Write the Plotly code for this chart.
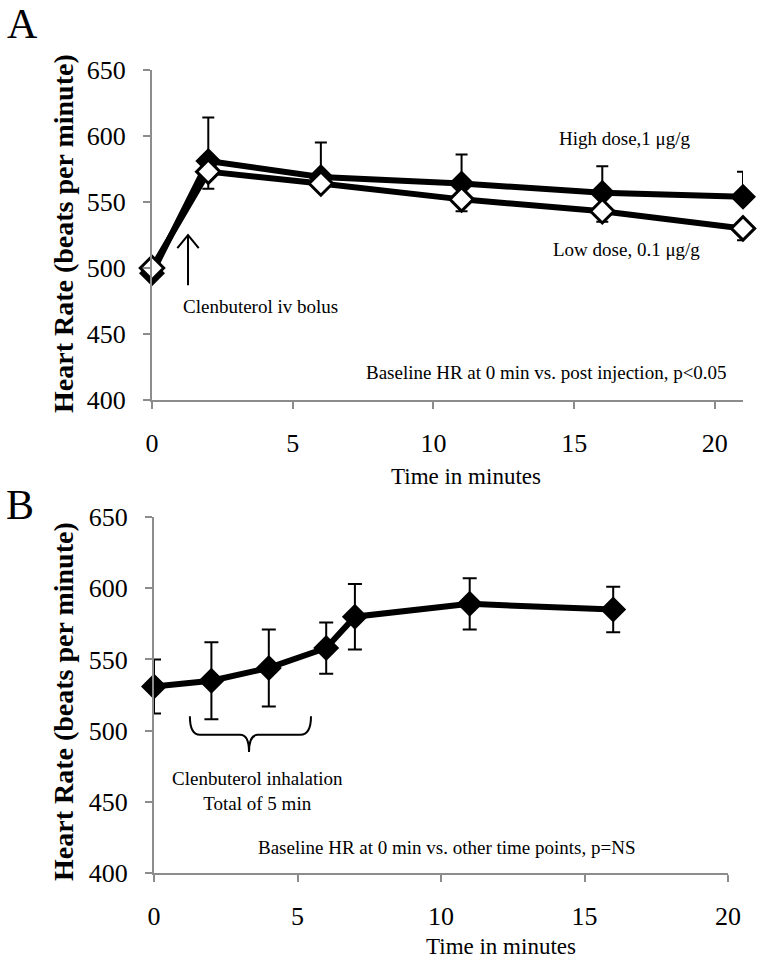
import plotly.graph_objects as go

# Panel A: iv bolus
time_a = [0, 2, 6, 11, 16, 21]
high_dose = [496, 581, 569, 564, 557, 554]
high_err = [3, 33, 26, 22, 20, 19]
low_dose = [500, 573, 564, 552, 543, 530]
low_err = [3, 13, 5, 9, 8, 9]

# Panel B: inhalation
time_b = [0, 2, 4, 6, 7, 11, 16]
inhal_hr = [531, 535, 544, 558, 580, 589, 585]
inhal_err = [19, 27, 27, 18, 23, 18, 16]

y_ticks = [400, 450, 500, 550, 600, 650]
x_ticks_a = [0, 5, 10, 15, 20]
x_ticks_b = [0, 5, 10, 15, 20]

SERIF = "Liberation Serif, Times New Roman, serif"
GREY = "#8c8c8c"

fig = go.Figure()

fig.add_trace(go.Scatter(
    x=time_a, y=high_dose, mode="lines+markers", name="High dose",
    line=dict(color="black", width=6),
    marker=dict(symbol="diamond", size=20, color="black"),
    error_y=dict(type="data", symmetric=False, array=high_err,
                 arrayminus=[0] * len(high_err), color="black", thickness=2, width=6),
    xaxis="x", yaxis="y", cliponaxis=False,
))
fig.add_trace(go.Scatter(
    x=time_a, y=low_dose, mode="lines+markers", name="Low dose",
    line=dict(color="black", width=6),
    marker=dict(symbol="diamond", size=18, color="white", line=dict(color="black", width=3)),
    error_y=dict(type="data", symmetric=False, array=[0] * len(low_err),
                 arrayminus=low_err, color="black", thickness=2, width=6),
    xaxis="x", yaxis="y", cliponaxis=False,
))
fig.add_trace(go.Scatter(
    x=time_b, y=inhal_hr, mode="lines+markers", name="Inhalation",
    line=dict(color="black", width=6),
    marker=dict(symbol="diamond", size=20, color="black"),
    error_y=dict(type="data", array=inhal_err, color="black", thickness=2, width=7),
    xaxis="x2", yaxis="y2", cliponaxis=False,
))

axis_common = dict(
    showgrid=False, zeroline=False, showline=True, linecolor=GREY, linewidth=2,
    ticks="outside", tickcolor=GREY, ticklen=7, tickwidth=2,
    tickfont=dict(family=SERIF, size=26, color="black"), automargin=False,
)

fig.update_layout(
    width=757, height=960,
    margin=dict(l=0, r=0, t=0, b=0),
    paper_bgcolor="white", plot_bgcolor="white",
    showlegend=False,
    xaxis=dict(axis_common, domain=[152 / 757, 743 / 757], range=[0, 21],
               tickvals=x_ticks_a, anchor="y", ticklabelstandoff=12),
    yaxis=dict(axis_common, domain=[1 - 400 / 960, 1 - 70 / 960], range=[400, 650],
               tickvals=y_ticks, anchor="x", ticklabelstandoff=12),
    xaxis2=dict(axis_common, domain=[154 / 757, 728 / 757], range=[0, 20],
                tickvals=x_ticks_b, anchor="y2", ticklabelstandoff=12),
    yaxis2=dict(axis_common, domain=[1 - 873 / 960, 1 - 517 / 960], range=[400, 650],
                tickvals=y_ticks, anchor="x2", ticklabelstandoff=12),
)

txt = dict(family=SERIF, size=19, color="black")

# arrow for the bolus and brace for inhalation period
fig.add_shape(type="path", path="M 1.28,487 L 1.28,525 M 0.9,515 L 1.28,525 L 1.66,515",
              xref="x", yref="y", line=dict(color="black", width=2))
fig.add_shape(type="path",
              path="M 1.25,510 Q 1.25,497 1.6,497 L 3.0,497 Q 3.31,497 3.31,485 "
                   "Q 3.31,497 3.62,497 L 5.1,497 Q 5.47,497 5.47,510",
              xref="x2", yref="y2", line=dict(color="black", width=2))

notes = [
    ("x", "y", 3.84, 470.5, "Clenbuterol iv bolus"),
    ("x", "y", 16.8, 598, "High dose,1 \u03bcg/g"),
    ("x", "y", 16.85, 514, "Low dose, 0.1 \u03bcg/g"),
    ("x", "y", 14.0, 420.5, "Baseline HR at 0 min vs. post injection, p<0.05"),
    ("x2", "y2", 3.62, 457.5, "Clenbuterol inhalation<br>Total of 5 min"),
    ("x2", "y2", 10.2, 418, "Baseline HR at 0 min vs. other time points, p=NS"),
]
for xr, yr, x, y, t in notes:
    fig.add_annotation(x=x, y=y, xref=xr, yref=yr, text=t, showarrow=False, font=txt)


def page_note(x, y, text, font, angle=0):
    fig.add_annotation(x=x / 757, y=1 - y / 960, xref="paper", yref="paper",
                       xanchor="center", yanchor="middle", textangle=angle,
                       text=text, showarrow=False, font=font)


# axis titles and panel letters, placed on the page
title_font = dict(family=SERIF, size=23, color="black")
ylab_font = dict(family=SERIF, size=28, color="black")
page_note(466, 476, "Time in minutes", title_font)
page_note(501, 946, "Time in minutes", title_font)
page_note(63, 234, "<b>Heart Rate (beats per minute)</b>", ylab_font, -90)
page_note(63, 702, "<b>Heart Rate (beats per minute)</b>", ylab_font, -90)
page_note(22, 24, "A", dict(family=SERIF, size=42, color="black"))
page_note(20, 505, "B", dict(family=SERIF, size=42, color="black"))

fig.write_html("out.html", config={"displayModeBar": False},
               post_script="document.body.style.margin='0';")
